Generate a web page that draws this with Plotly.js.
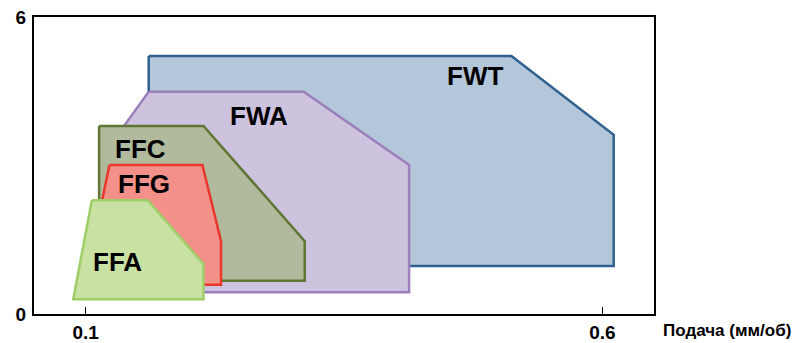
<!DOCTYPE html>
<html>
<head>
<meta charset="utf-8">
<script src="https://cdn.plot.ly/plotly-3.0.1.min.js"></script>
<style>html,body{margin:0;padding:0;background:#fff;}#chart{width:803px;height:343px;}</style>
</head>
<body>
<div id="chart"></div>
<script>
// Feed (mm/rev) vs depth of cut (mm) application zones
const names = ["FWT", "FWA", "FFC", "FFG", "FFA"];
const fwtX = [0.161, 0.512, 0.611, 0.611, 0.161];
const fwtY = [5.21, 5.21, 3.62, 0.97, 0.97];
const fwaX = [0.161, 0.311, 0.413, 0.413, 0.114, 0.114];
const fwaY = [4.49, 4.49, 3.01, 0.44, 0.44, 3.13];
const ffcX = [0.113, 0.214, 0.312, 0.312, 0.113];
const ffcY = [3.80, 3.80, 1.47, 0.67, 0.67];
const ffgX = [0.123, 0.213, 0.231, 0.231, 0.099];
const ffgY = [3.01, 3.01, 1.47, 0.59, 0.59];
const ffaX = [0.106, 0.160, 0.214, 0.214, 0.088];
const ffaY = [2.30, 2.30, 1.01, 0.30, 0.30];
// label anchor points (data coords)
const labelX = [0.477, 0.268, 0.153, 0.156, 0.131];
const labelY = [4.80, 4.0, 3.33, 2.63, 1.05];
const xTicks = [0.1, 0.6];
const xTickText = ["0.1", "0.6"];
const yTicks = [0, 6];
const yTickText = ["0", "6"];
const xAxisLabel = "Подача (мм/об)";

const fills = ["#b4c6d9", "#cec3de", "#b1ba9c", "#f4908a", "#c9e1a3"];
const lines = ["#2f6090", "#9b80bb", "#607634", "#e8382c", "#9dcf66"];
const xs = [fwtX, fwaX, ffcX, ffgX, ffaX];
const ys = [fwtY, fwaY, ffcY, ffgY, ffaY];

const traces = names.map((n, i) => ({
  type: "scatter", mode: "lines", name: n,
  x: xs[i].concat([xs[i][0]]), y: ys[i].concat([ys[i][0]]),
  fill: "toself", fillcolor: fills[i],
  line: {color: lines[i], width: 2.5},
  hoverinfo: "skip", showlegend: false
}));

const FONT = "Liberation Sans, Arial, sans-serif";
const annotations = names.map((n, i) => ({
  x: labelX[i], y: labelY[i], xref: "x", yref: "y", text: "<b>" + n + "</b>",
  showarrow: false, font: {family: FONT, size: 26, color: "#000"}
}));
annotations.push({
  xref: "paper", yref: "paper", x: 1.011, y: -0.055, xanchor: "left", yanchor: "middle",
  text: xAxisLabel, showarrow: false,
  font: {family: FONT, size: 17, color: "#000", weight: "bold"}
});

const layout = {
  width: 803, height: 343,
  margin: {l: 34, r: 149, t: 17, b: 29},
  paper_bgcolor: "#fff", plot_bgcolor: "#fff",
  xaxis: {range: [0.05, 0.65], tickvals: xTicks, ticktext: xTickText, ticks: "inside", ticklen: 7,
    tickwidth: 1.5, tickcolor: "#000", showgrid: false, zeroline: false, showline: true,
    linecolor: "#000", linewidth: 2, mirror: true,
    tickfont: {family: FONT, size: 19, color: "#000", weight: "bold"}},
  yaxis: {range: [0, 6], tickvals: yTicks, ticktext: yTickText, ticks: "", showgrid: false,
    zeroline: false, showline: true, linecolor: "#000", linewidth: 2, mirror: true, ticklabelstandoff: 2,
    tickfont: {family: FONT, size: 19, color: "#000", weight: "bold"}},
  annotations: annotations
};

Plotly.newPlot("chart", traces, layout, {displayModeBar: false, staticPlot: true});
</script>
</body>
</html>
